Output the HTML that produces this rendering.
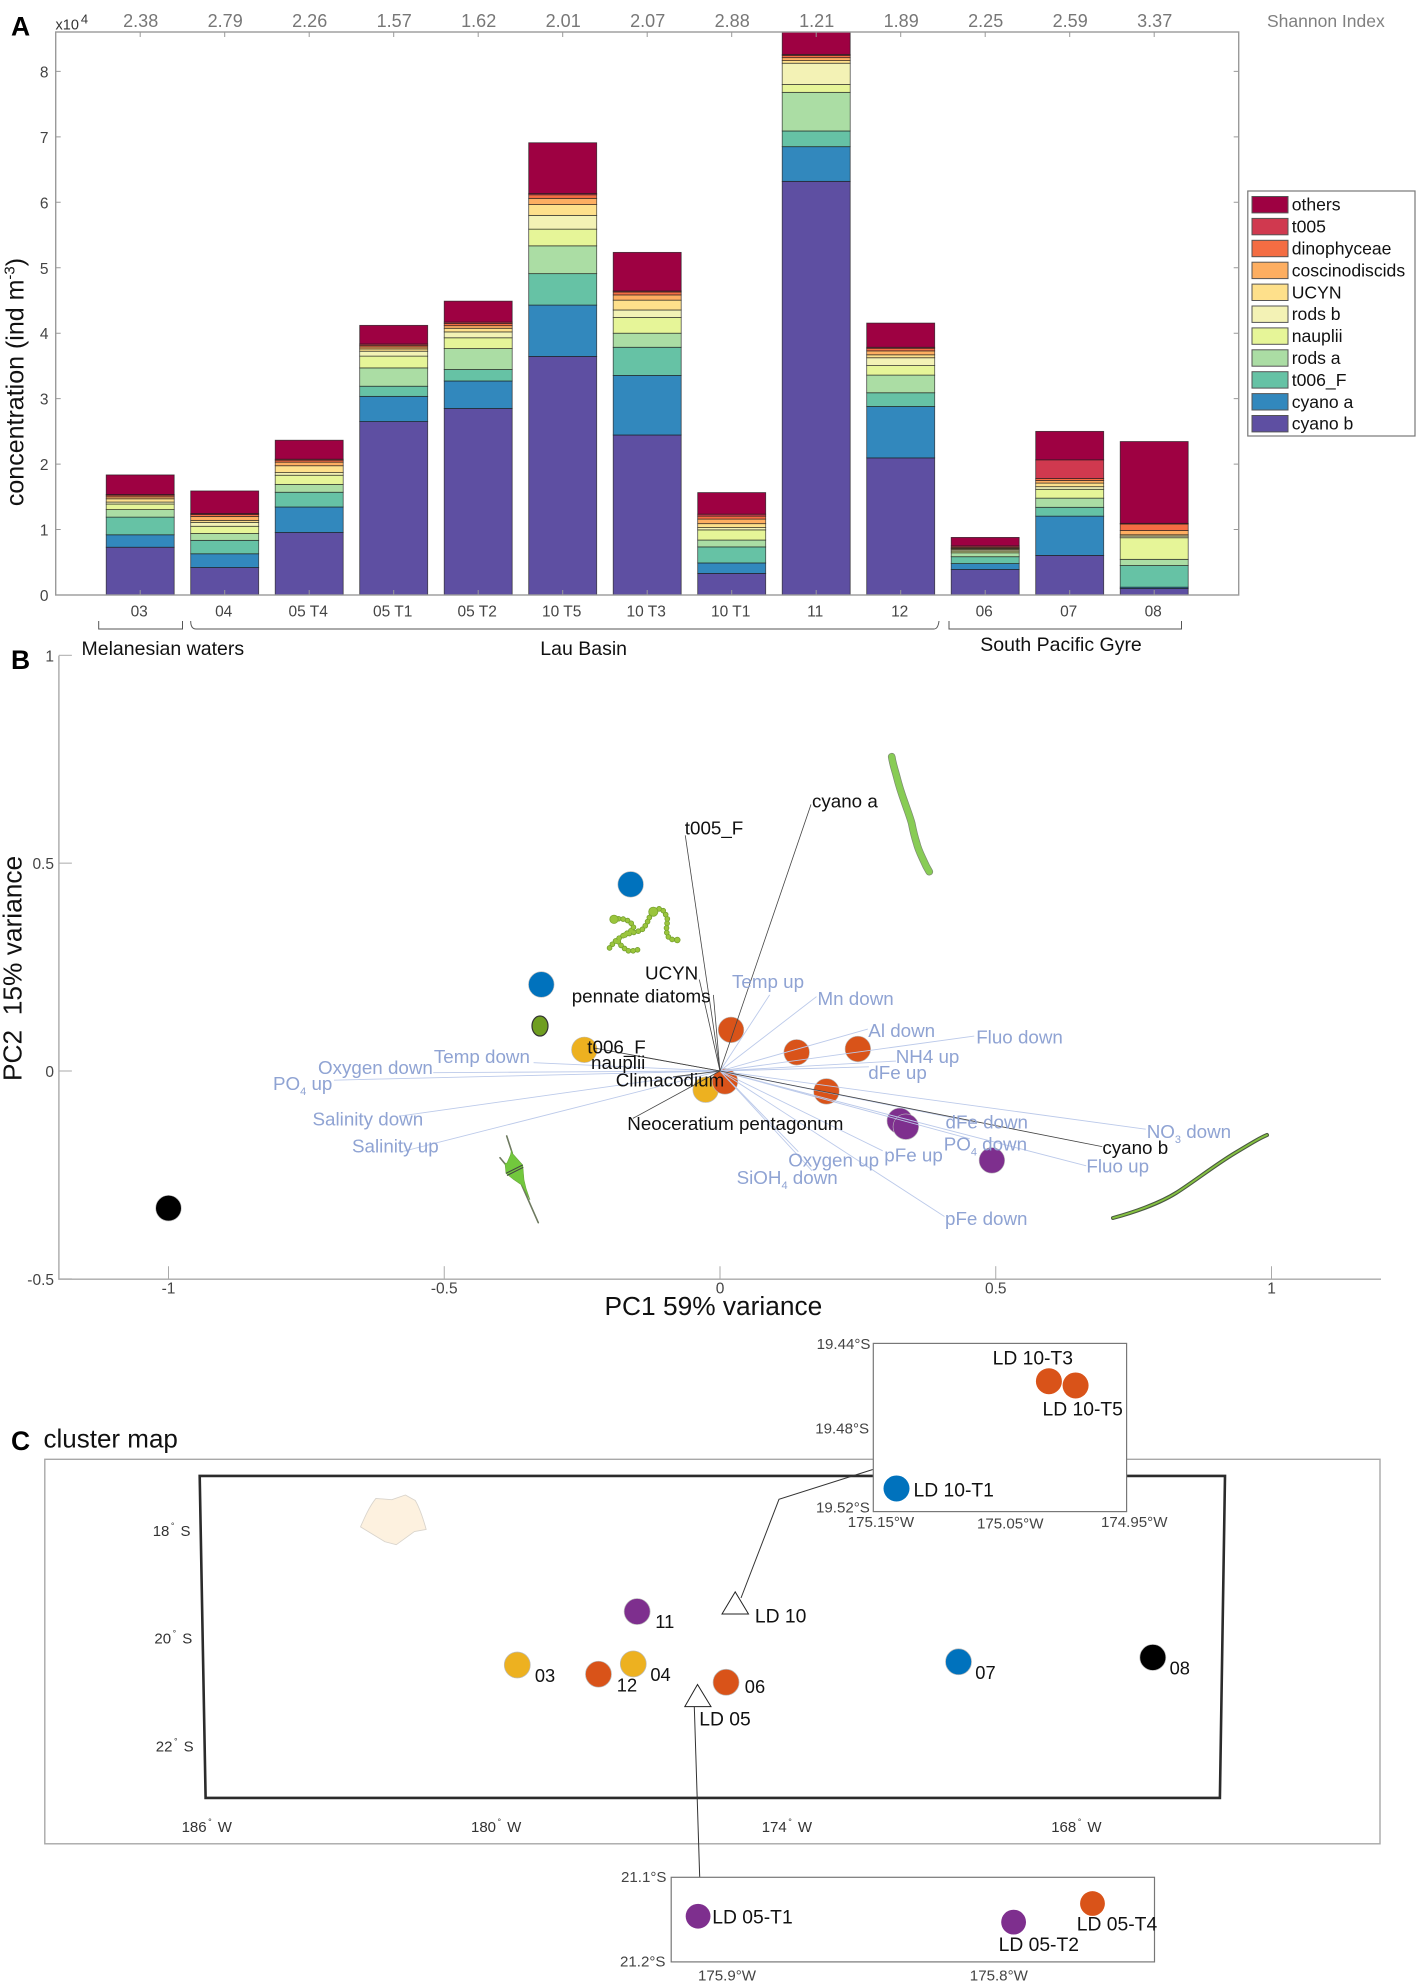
<!DOCTYPE html>
<html lang="en">
<head>
<meta charset="utf-8">
<title>Plankton community composition, PCA biplot and cluster map</title>
<style>
html,body{margin:0;padding:0;background:#fff;}
body{width:1417px;height:1986px;overflow:hidden;}
svg{display:block;filter:blur(0.35px);}
text{font-family:"Liberation Sans",Arial,sans-serif;}
.tick{font-size:15.5px;fill:#444;}
.bl{font-size:18.8px;fill:#8fa3d3;}
.bk{font-size:18.8px;fill:#111;}
.sub{font-size:11px;}
.map{font-size:15px;fill:#333;}
.ins{font-size:15.1px;fill:#444;}
.st{font-size:18.3px;fill:#111;}
.ld{font-size:19.3px;fill:#111;}
.region{font-size:19.5px;fill:#111;}
.letter{font-size:26.5px;font-weight:bold;fill:#000;}
.shan{font-size:18px;fill:#777;}
</style>
</head>
<body>
<svg id="fig" xmlns="http://www.w3.org/2000/svg" width="1417" height="1986" viewBox="0 0 1417 1986">
<defs><clipPath id="barClip"><rect x="55.7" y="32" width="1183" height="563"/></clipPath></defs>

<!-- PANEL A -->
<g id="panelA">
  <g id="barsLayer" clip-path="url(#barClip)"></g>
  <rect x="55.7" y="32" width="1183" height="563" fill="none" stroke="#9a9a9a" stroke-width="1.4"/>
  <g id="barAxisLayer"></g>
  <text x="11" y="35.5" class="letter">A</text>
  <text x="55.5" y="29.5" font-size="14.5" fill="#333">x10<tspan font-size="13" dy="-6" dx="2">4</tspan></text>
  <text transform="translate(23.5,382) rotate(-90)" text-anchor="middle" font-size="25" fill="#111">concentration (ind m<tspan font-size="15" dy="-9">-3</tspan><tspan dy="9">)</tspan></text>
  <text x="1267" y="27" font-size="17.5" fill="#808080">Shannon Index</text>
  <path d="M98.7 621V629H182.5V621" fill="none" stroke="#555" stroke-width="1"/>
  <path d="M190.7 621Q190.7 629 196 629H934Q938 629 939 621" fill="none" stroke="#555" stroke-width="1"/>
  <path d="M949 621V629H1181.5V621" fill="none" stroke="#555" stroke-width="1"/>
  <text x="81.5" y="654.8" class="region">Melanesian waters</text>
  <text x="540.3" y="654.8" class="region">Lau Basin</text>
  <text x="980.3" y="651" class="region">South Pacific Gyre</text>
  <g id="legendLayer"></g>
</g>

<!-- PANEL B -->
<g id="panelB">
  <path d="M58.9 655.6V1279.2H1381" fill="none" stroke="#aaa" stroke-width="1.4"/>
  <g id="pcaAxisLayer"></g>
  <text x="11" y="669" class="letter">B</text>
  <text x="604.5" y="1315" font-size="26.3" fill="#111">PC1 59% variance</text>
  <text transform="translate(21.7,1081) rotate(-90)" font-size="26.3" fill="#111" style="white-space:pre">PC2  15% variance</text>

  <g>
    <g fill="none" stroke-linecap="round" stroke-linejoin="round">
      <path id="chainDark" d="M614 919.3C620 918 626 919 629.3 921.7C634 925 634 928 632.7 929.3C630 932 620 937 616.7 940C613 943 611 946 609.3 948.3M618.3 941.7C620 944 621 946 623.3 947.3C626 950 628 951 630 951C634 951 637 950 640 949M625 935C630 933 637 932 641.7 930C645 927 647 923 648.3 920C650 916 651 913 653.3 911.7C656 909 658 908.5 660 909C663 910 664 911 665 913.3C667 917 668 920 667.3 921.7C667 925 666 929 666.7 931.7C667 935 668 937 670 938.3C672 940 675 940 677.3 940" stroke="#6e9a2a" stroke-width="5.6" stroke-dasharray="0 4.6"/>
      <path d="M614 919.3C620 918 626 919 629.3 921.7C634 925 634 928 632.7 929.3C630 932 620 937 616.7 940C613 943 611 946 609.3 948.3M618.3 941.7C620 944 621 946 623.3 947.3C626 950 628 951 630 951C634 951 637 950 640 949M625 935C630 933 637 932 641.7 930C645 927 647 923 648.3 920C650 916 651 913 653.3 911.7C656 909 658 908.5 660 909C663 910 664 911 665 913.3C667 917 668 920 667.3 921.7C667 925 666 929 666.7 931.7C667 935 668 937 670 938.3C672 940 675 940 677.3 940" stroke="#9ac53c" stroke-width="4.2" stroke-dasharray="0 4.6"/>
      <circle cx="614" cy="919.3" r="4.2" fill="#9ac53c" stroke="#7ba52f" stroke-width="0.8"/>
      <circle cx="653.3" cy="911.7" r="4.6" fill="#9ac53c" stroke="#7ba52f" stroke-width="0.8"/>
      <circle cx="677.3" cy="940" r="2.8" fill="#9ac53c" stroke="#7ba52f" stroke-width="0.8"/>
    </g>
    <ellipse cx="540" cy="1026" rx="8" ry="10" fill="#6f9e20" stroke="#333" stroke-width="1.2"/>
    <g>
      <path d="M506.7 1136L512.3 1153.3M500 1157.7L506 1165M521.7 1185L538.3 1222.7" stroke="#6e7a60" stroke-width="1.6" fill="none" stroke-linecap="round"/>
      <path d="M511.5 1150L512.3 1153.3L522.7 1165L524 1180L526 1188.3L530 1200L521.7 1185L513.3 1179.3L506 1173.3L505 1163.3L507 1163L510.5 1155Z" fill="#72c83d" stroke="#6aa83c" stroke-width="0.6"/>
      <path d="M506 1173.3L522.7 1165M507 1175.5L523.3 1167.3" stroke="#444" stroke-width="1" fill="none"/>
    </g>
    <path d="M891.7 756.7C893 765 895 770 896.7 776.7C899 786 902 795 905 803.3C908 812 910 817 911.7 823.3C913 830 915 838 916.7 843.3C918 849 921 855 923.3 860C925 864 927 868 929.3 871.7" fill="none" stroke="#7c8a72" stroke-width="7.6" stroke-linecap="round"/>
    <path d="M891.7 756.7C893 765 895 770 896.7 776.7C899 786 902 795 905 803.3C908 812 910 817 911.7 823.3C913 830 915 838 916.7 843.3C918 849 921 855 923.3 860C925 864 927 868 929.3 871.7" fill="none" stroke="#88cc55" stroke-width="6.2" stroke-linecap="round"/>
    <path d="M1113 1218C1135 1212 1160 1203 1176 1193S1215 1165 1235 1153S1260 1138 1267 1135" fill="none" stroke="#4a5a40" stroke-width="4" stroke-linecap="round"/>
    <path d="M1113 1218C1135 1212 1160 1203 1176 1193S1215 1165 1235 1153S1260 1138 1267 1135" fill="none" stroke="#86c441" stroke-width="1.8" stroke-linecap="round"/>
  </g>
  <g id="pcaPointLayer"></g>
  <g id="pcaVectorLayer"></g>

  <g>
    <text class="bl" x="732" y="987.8">Temp up</text>
    <text class="bl" x="817.5" y="1005">Mn down</text>
    <text class="bl" x="868.3" y="1037.2">Al down</text>
    <text class="bl" x="976.2" y="1043.7">Fluo down</text>
    <text class="bl" x="895.7" y="1063.2">NH4 up</text>
    <text class="bl" x="868.3" y="1078.9">dFe up</text>
    <text class="bl" x="945.5" y="1128.3">dFe down</text>
    <text class="bl" x="943.7" y="1150.4">PO<tspan class="sub" dy="5">4</tspan><tspan dy="-5"> down</tspan></text>
    <text class="bl" x="1146.7" y="1137.8">NO<tspan class="sub" dy="5">3</tspan><tspan dy="-5"> down</tspan></text>
    <text class="bl" x="1086.4" y="1172.5">Fluo up</text>
    <text class="bl" x="884.3" y="1161.7">pFe up</text>
    <text class="bl" x="788.2" y="1166.4">Oxygen up</text>
    <text class="bl" x="736.6" y="1184.2">SiOH<tspan class="sub" dy="5">4</tspan><tspan dy="-5"> down</tspan></text>
    <text class="bl" x="945" y="1225">pFe down</text>
    <text class="bl" x="433.9" y="1062.8">Temp down</text>
    <text class="bl" x="318" y="1074">Oxygen down</text>
    <text class="bl" x="273" y="1090">PO<tspan class="sub" dy="5">4</tspan><tspan dy="-5"> up</tspan></text>
    <text class="bl" x="312.5" y="1125.7">Salinity down</text>
    <text class="bl" x="352" y="1152.6">Salinity up</text>
  </g>
  <g>
    <text class="bk" x="812" y="807.4">cyano a</text>
    <text class="bk" x="684.8" y="834.3">t005_F</text>
    <text class="bk" x="645" y="979.3">UCYN</text>
    <text class="bk" x="571.7" y="1002.3">pennate diatoms</text>
    <text class="bk" x="587.3" y="1053.3">t006_F</text>
    <text class="bk" x="591" y="1069">nauplii</text>
    <text class="bk" x="615.7" y="1086.7">Climacodium</text>
    <text class="bk" x="627.3" y="1130">Neoceratium pentagonum</text>
    <text class="bk" x="1102.4" y="1153.9">cyano b</text>
  </g>
</g>

<!-- PANEL C -->
<g id="panelC">
  <text x="11" y="1450" class="letter">C</text>
  <text x="43.5" y="1447.4" font-size="26" fill="#111">cluster map</text>
  <rect x="44.8" y="1459.3" width="1335.2" height="384.5" fill="#fff" stroke="#a8a8a8" stroke-width="1.4"/>
  <path d="M199.7 1475.9H1225L1219.9 1797.9H205.6Z" fill="#fff" stroke="#2b2b2b" stroke-width="2.6"/>
  <path transform="translate(0,1320) scale(0.4529,0.4248)" d="M796 487C805 465 815 440 830 420L865 423L895 412L917 425C928 445 935 470 941 493L915 498L875 529L850 522Z" fill="#fdf1df" stroke="#d9d4cc" stroke-width="2" stroke-linejoin="round"/>

  <g>
    <text class="map" x="152.7" y="1535.8">18<tspan font-size="9" dy="-7" dx="1.5">°</tspan><tspan dy="7" dx="6">S</tspan></text>
    <text class="map" x="154.4" y="1643.7">20<tspan font-size="9" dy="-7" dx="1.5">°</tspan><tspan dy="7" dx="6">S</tspan></text>
    <text class="map" x="155.8" y="1751.6">22<tspan font-size="9" dy="-7" dx="1.5">°</tspan><tspan dy="7" dx="6">S</tspan></text>
  </g>
  <g>
    <text class="map" x="181.6" y="1832">186<tspan font-size="9" dy="-7" dx="1.5">°</tspan><tspan dy="7" dx="6">W</tspan></text>
    <text class="map" x="471" y="1832">180<tspan font-size="9" dy="-7" dx="1.5">°</tspan><tspan dy="7" dx="6">W</tspan></text>
    <text class="map" x="761.7" y="1832">174<tspan font-size="9" dy="-7" dx="1.5">°</tspan><tspan dy="7" dx="6">W</tspan></text>
    <text class="map" x="1051.2" y="1832">168<tspan font-size="9" dy="-7" dx="1.5">°</tspan><tspan dy="7" dx="6">W</tspan></text>
  </g>

  <path d="M741 1598L779 1499.3L872.8 1469.5" fill="none" stroke="#333" stroke-width="1"/>
  <path d="M694.3 1706.6L699.7 1877.3" fill="none" stroke="#333" stroke-width="1"/>
  <path d="M735.2 1591.9L722 1614H748.5Z" fill="#fff" stroke="#222" stroke-width="1"/>
  <path d="M697.5 1684.5L684.8 1706.6H711Z" fill="#fff" stroke="#222" stroke-width="1"/>
  <text class="ld" x="754.9" y="1622.5">LD 10</text>
  <text class="ld" x="699.3" y="1725.7">LD 05</text>

  <g id="stationLayer"></g>
  <g>
    <text class="st" x="655.3" y="1628">11</text>
    <text class="st" x="534.9" y="1682">03</text>
    <text class="st" x="616.8" y="1691.3">12</text>
    <text class="st" x="650.4" y="1681">04</text>
    <text class="st" x="744.8" y="1693">06</text>
    <text class="st" x="975.3" y="1679">07</text>
    <text class="st" x="1169.6" y="1674.7">08</text>
  </g>

  <rect x="873.3" y="1343.4" width="253.3" height="168.2" fill="#fff" stroke="#777" stroke-width="1.2"/>
  <g id="inset10Layer"></g>
  <g>
    <text class="ld" x="992.6" y="1364.6">LD 10-T3</text>
    <text class="ld" x="1042.5" y="1415.6">LD 10-T5</text>
    <text class="ld" x="913.5" y="1496.3">LD 10-T1</text>
    <text class="ins" x="816.6" y="1348.9">19.44°S</text>
    <text class="ins" x="815.2" y="1433.4">19.48°S</text>
    <text class="ins" x="816" y="1512.4">19.52°S</text>
    <text class="ins" x="847.7" y="1526.9">175.15°W</text>
    <text class="ins" x="977" y="1528.6">175.05°W</text>
    <text class="ins" x="1101" y="1526.9">174.95°W</text>
  </g>

  <rect x="671.2" y="1877.3" width="483.3" height="84.6" fill="#fff" stroke="#777" stroke-width="1.2"/>
  <g id="inset05Layer"></g>
  <g>
    <text class="ld" x="712.3" y="1923.7">LD 05-T1</text>
    <text class="ld" x="998.6" y="1950.8">LD 05-T2</text>
    <text class="ld" x="1076.8" y="1930.5">LD 05-T4</text>
    <text class="ins" x="621" y="1882">21.1°S</text>
    <text class="ins" x="620" y="1966.5">21.2°S</text>
    <text class="ins" x="698" y="1980.6">175.9°W</text>
    <text class="ins" x="969.8" y="1980.6">175.8°W</text>
  </g>
</g>
</svg>

<script>
// ---------- Panel A data (units of 10^4 ind m-3) ----------
var stations = ['03','04','05 T4','05 T1','05 T2','10 T5','10 T3','10 T1','11','12','06','07','08'];
var shannon = ['2.38','2.79','2.26','1.57','1.62','2.01','2.07','2.88','1.21','1.89','2.25','2.59','3.37'];
var cyanoB = [.73,.42,.955,2.65,2.85,3.645,2.445,.33,6.32,2.095,.39,.605,.10];
var cyanoA = [.19,.21,.39,.385,.42,.785,.91,.16,.53,.785,.09,.60,.02];
var t006F = [.27,.205,.225,.155,.175,.48,.43,.245,.24,.21,.105,.135,.33];
var rodsA = [.115,.105,.12,.28,.32,.425,.215,.105,.59,.27,.06,.14,.095];
var nauplii = [.085,.11,.14,.18,.165,.255,.24,.155,.12,.145,.025,.135,.33];
var rodsB = [.03,.06,.04,.075,.09,.21,.115,.035,.325,.12,.02,.04,.025];
var ucyn = [.05,.03,.105,.035,.055,.165,.15,.06,.04,.045,.015,.055,.02];
var coscinodiscids = [.03,.06,.055,.03,.04,.095,.08,.07,.045,.06,.01,.04,.065];
var dinophyceae = [.025,.03,.03,.025,.035,.055,.045,.045,.035,.04,.015,.03,.10];
var t005 = [.01,.015,.015,.02,.02,.02,.015,.03,.015,.015,.02,.285,.01];
var others = [.30,.345,.29,.285,.32,.775,.59,.33,.74,.37,.13,.435,1.25];
var seriesNames = ['cyano b','cyano a','t006_F','rods a','nauplii','rods b','UCYN','coscinodiscids','dinophyceae','t005','others'];
var barTicks = [0,1,2,3,4,5,6,7,8];

// ---------- Panel B data (PC1, PC2) ----------
var pcaTicksX = [-1,-0.5,0,0.5,1];
var pcaTicksY = [1,0.5,0,-0.5];
var scorePC1 = [-0.162,-0.324,-0.246,-1.0,-0.026,0.009,0.02,0.139,0.25,0.193,0.326,0.337,0.493];
var scorePC2 = [0.449,0.208,0.051,-0.33,-0.045,-0.025,0.099,0.045,0.053,-0.049,-0.12,-0.134,-0.215];
var scoreCluster = ['blue','blue','yellow','black','yellow','orange','orange','orange','orange','orange','purple','purple','purple'];
var envNames = ['temp-up','mn-down','al-down','fluo-down','nh4-up','dfe-up','dfe-down','po4-down','no3-down','fluo-up','pfe-up','oxygen-up','sioh4-down','pfe-down','temp-down','oxygen-down','po4-up','salinity-down','salinity-up'];
var envPC1 = [0.09,0.175,0.268,0.461,0.319,0.27,0.461,0.453,0.772,0.664,0.295,0.142,0.167,0.407,-0.338,-0.52,-0.70,-0.579,-0.577];
var envPC2 = [0.183,0.179,0.101,0.084,0.024,0.01,-0.123,-0.163,-0.14,-0.228,-0.192,-0.194,-0.24,-0.35,0.02,-0.004,-0.022,-0.108,-0.194];
var taxaNames = ['cyano-a','t005-f','ucyn','pennate-diatoms','t006-f','nauplii','climacodium','neoceratium-pentagonum','cyano-b'];
var taxaPC1 = [0.165,-0.063,-0.0375,-0.012,-0.227,-0.151,-0.085,-0.158,0.693];
var taxaPC2 = [0.641,0.567,0.22,0.183,0.055,0.036,-0.014,-0.114,-0.182];

// ---------- Panel C data (degrees W, degrees S) ----------
var mapStations = ['11','03','12','04','06','07','08'];
var mapLon = [177.10,179.58,177.90,177.18,175.26,170.45,166.43];
var mapLat = [19.51,20.50,20.67,20.48,20.82,20.44,20.36];
var mapCluster = ['purple','yellow','orange','yellow','orange','blue','black'];
var ld10Names = ['t3','t5','t1'];
var ld10Lon = [175.017,174.996,175.137];
var ld10Lat = [19.458,19.460,19.509];
var ld10Cluster = ['orange','orange','blue'];
var ld05Names = ['t1','t2','t4'];
var ld05Lon = [175.911,175.795,175.766];
var ld05Lat = [21.146,21.153,21.131];
var ld05Cluster = ['purple','purple','orange'];

// ---------- palettes ----------
var seriesColors = ['#5e4fa2','#3288bd','#66c2a5','#abdda4','#e6f598','#f3f2b5','#fee08b','#fdae61','#f46d43','#d0394f','#9e0142'];
var clusterColors = {blue:'#0072bd',yellow:'#edb120',orange:'#d95319',purple:'#7e2f8e',black:'#000000'};

var seriesData = [cyanoB,cyanoA,t006F,rodsA,nauplii,rodsB,ucyn,coscinodiscids,dinophyceae,t005,others];
var NS = 'http://www.w3.org/2000/svg';
function mk(parent, tag, attrs, txt){
  var el = document.createElementNS(NS, tag);
  for (var k in attrs) el.setAttribute(k, attrs[k]);
  if (txt !== undefined) el.textContent = txt;
  parent.appendChild(el);
  return el;
}
function byId(id){ return document.getElementById(id); }
function slug(s){ return String(s).toLowerCase().replace(/[^a-z0-9]+/g,'-'); }

// axis functions
function barX(i){ return 55.7 + (i + 1) * 84.5; }
function barY(v){ return 595 - 65.45 * v; }
function pcaX(v){ return 720 + 551.5 * v; }
function pcaY(v){ return 1071 - 415.7 * v; }
function mapX(lon){ return 207 + (186 - lon) * 48.33; }
function mapY(lat){ return 1530 + (lat - 18) * 54; }
function ld10X(lon){ return 880 + (175.15 - lon) * 1270; }
function ld10Y(lat){ return 1343.4 + (lat - 19.44) * 2102; }
function ld05X(lon){ return 728 + (175.9 - lon) * 2720; }
function ld05Y(lat){ return 1877.3 + (lat - 21.1) * 846; }

// ---------- draw bars ----------
(function(){
  var layer = byId('barsLayer');
  var barW = 68;
  stations.forEach(function(st, i){
    var sum = 0;
    seriesData.forEach(function(arr, s){
      var y0 = barY(sum);
      sum += arr[i];
      var y1 = barY(sum);
      var r = mk(layer, 'rect', {x: barX(i) - barW/2, y: y1, width: barW, height: y0 - y1, fill: seriesColors[s], stroke: '#1c1c1c', 'stroke-width': 0.8, 'stroke-opacity': 0.75});
      
      
    });
  });

  var ax = byId('barAxisLayer');
  barTicks.forEach(function(t){
    var l = mk(ax, 'path', {d: 'M55.7 ' + barY(t) + 'h5M1238.7 ' + barY(t) + 'h-5', stroke: '#999', 'stroke-width': 1, fill: 'none'});
    
    
    var tx = mk(ax, 'text', {x: 48.5, y: barY(t) + 6, 'text-anchor': 'end', 'class': 'tick'}, String(t));
    
    
  });
  stations.forEach(function(st, i){
    var l = mk(ax, 'path', {d: 'M' + barX(i) + ' 595v-5M' + barX(i) + ' 32v5', stroke: '#999', 'stroke-width': 1, fill: 'none'});
    
    
    var tx = mk(ax, 'text', {x: barX(i) - 1, y: 616.5, 'text-anchor': 'middle', 'class': 'tick'}, st);
    
    
    var sh = mk(ax, 'text', {x: barX(i) + 0.5, y: 27, 'text-anchor': 'middle', 'class': 'shan'}, shannon[i]);
    
    
  });

  // legend
  var lg = byId('legendLayer');
  var box = mk(lg, 'rect', {x: 1247.8, y: 191, width: 167.2, height: 245, fill: '#fff', stroke: '#777', 'stroke-width': 1.2});
  
  
  for (var s = seriesNames.length - 1, row = 0; s >= 0; s--, row++){
    var cy = 204.7 + row * 21.9;
    var sw = mk(lg, 'rect', {x: 1252, y: cy - 8.2, width: 36, height: 16.4, fill: seriesColors[s], stroke: '#555', 'stroke-width': 1});
    
    
    var t = mk(lg, 'text', {x: 1291.7, y: cy + 6, 'font-size': 17.6, fill: '#111'}, seriesNames[s]);
    
    
  }
})();

// ---------- draw PCA ----------
(function(){
  var ax = byId('pcaAxisLayer');
  pcaTicksY.forEach(function(t){
    var l = mk(ax, 'path', {d: 'M58.9 ' + pcaY(t) + 'h13', stroke: '#aaa', 'stroke-width': 1, fill: 'none'});
    
    
    var tx = mk(ax, 'text', {x: 54, y: pcaY(t) + 6, 'text-anchor': 'end', 'class': 'tick'}, String(t));
    
    
  });
  pcaTicksX.forEach(function(t){
    var l = mk(ax, 'path', {d: 'M' + pcaX(t) + ' 1279.2v-13', stroke: '#aaa', 'stroke-width': 1, fill: 'none'});
    
    
    var tx = mk(ax, 'text', {x: pcaX(t), y: 1293.5, 'text-anchor': 'middle', 'class': 'tick'}, String(t));
    
    
  });

  var pts = byId('pcaPointLayer');
  scorePC1.forEach(function(v, i){
    var c = mk(pts, 'circle', {cx: pcaX(v), cy: pcaY(scorePC2[i]), r: 12.8, fill: clusterColors[scoreCluster[i]], stroke: '#bbb', 'stroke-width': 0.6});
    
    
  });

  var vec = byId('pcaVectorLayer');
  envPC1.forEach(function(v, i){
    var l = mk(vec, 'line', {x1: pcaX(0), y1: pcaY(0), x2: pcaX(v), y2: pcaY(envPC2[i]), stroke: '#bccaea', 'stroke-width': 0.9});
    
    
  });
  taxaPC1.forEach(function(v, i){
    var l = mk(vec, 'line', {x1: pcaX(0), y1: pcaY(0), x2: pcaX(v), y2: pcaY(taxaPC2[i]), stroke: '#444', 'stroke-width': 0.8});
    
    
  });
})();

// ---------- draw map ----------
(function(){
  var sl = byId('stationLayer');
  mapStations.forEach(function(st, i){
    var c = mk(sl, 'circle', {cx: mapX(mapLon[i]), cy: mapY(mapLat[i]), r: 13, fill: clusterColors[mapCluster[i]], stroke: '#bbb', 'stroke-width': 0.7});
    
    
  });
  var a = byId('inset10Layer');
  ld10Names.forEach(function(n, i){
    var c = mk(a, 'circle', {cx: ld10X(ld10Lon[i]), cy: ld10Y(ld10Lat[i]), r: 13, fill: clusterColors[ld10Cluster[i]]});
    
    
  });
  var b = byId('inset05Layer');
  ld05Names.forEach(function(n, i){
    var c = mk(b, 'circle', {cx: ld05X(ld05Lon[i]), cy: ld05Y(ld05Lat[i]), r: 12.4, fill: clusterColors[ld05Cluster[i]]});
    
    
  });
})();
</script>
</body>
</html>
